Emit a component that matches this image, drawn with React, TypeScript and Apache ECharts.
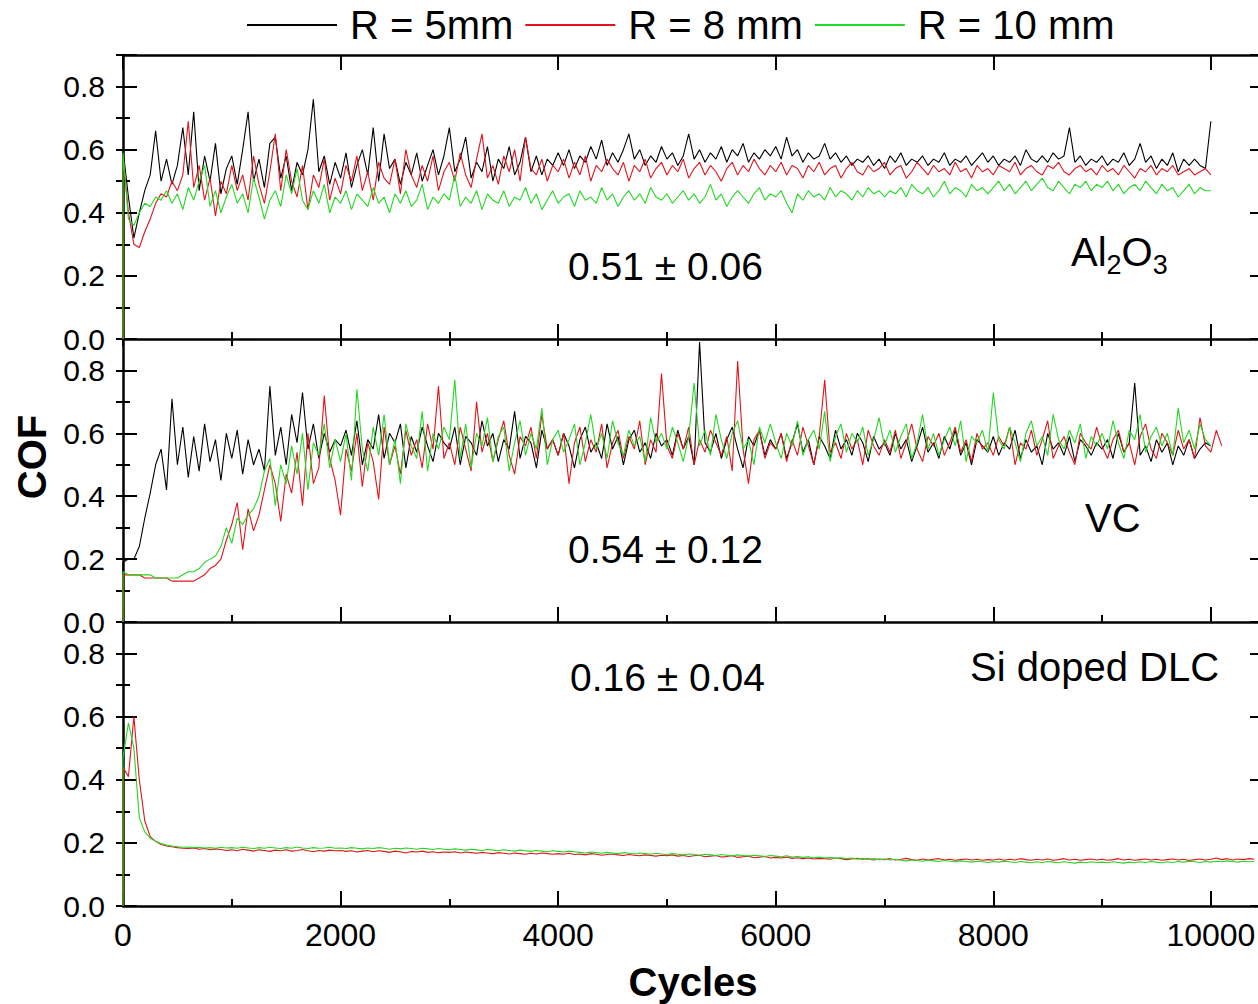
import React, { useEffect, useRef } from 'react';
import * as echarts from 'echarts';

// ---------- data (COF, one sample every 50 cycles, starting at cycle 0) ----------
const STEP = 50;
const X_MAX = 10470;
const seriesNames = ['R = 5mm', 'R = 8 mm', 'R = 10 mm'];
const seriesColors = ['#000000', '#e3131b', '#22d822'];
const xTickLabels = [0, 2000, 4000, 6000, 8000, 10000];
const yTickLabels = [0.0, 0.2, 0.4, 0.6, 0.8];
const panelNames = ['Al2O3', 'VC', 'Si doped DLC'];
const meanLabels = ['0.51 ± 0.06', '0.54 ± 0.12', '0.16 ± 0.04'];

// Al2O3 panel
const al2o3R5 = [
  .60,.45,.32,.40,.47,.52,.66,.50,.57,.49,.55,.67,.52,.72,.47,.58,.50,.62,.46,.54,
  .58,.49,.60,.72,.50,.57,.48,.62,.64,.51,.58,.47,.56,.52,.60,.76,.53,.58,.49,.56,
  .51,.59,.48,.55,.60,.52,.67,.50,.65,.54,.57,.49,.56,.52,.59,.50,.55,.60,.52,.58,
  .67,.53,.57,.64,.51,.56,.53,.61,.50,.57,.54,.61,.52,.56,.64,.53,.58,.52,.57,.55,
  .59,.55,.60,.54,.58,.56,.61,.57,.63,.55,.59,.56,.60,.65,.57,.60,.55,.58,.56,.61,
  .57,.59,.55,.58,.65,.57,.60,.56,.59,.57,.61,.56,.60,.58,.62,.56,.59,.57,.60,.58,
  .61,.57,.64,.58,.60,.56,.59,.57,.58,.62,.57,.59,.56,.58,.55,.57,.56,.58,.55,.57,
  .54,.58,.56,.59,.55,.57,.56,.58,.55,.57,.56,.59,.55,.57,.56,.58,.55,.57,.59,.56,
  .58,.55,.57,.56,.58,.55,.60,.57,.56,.58,.56,.59,.57,.58,.67,.56,.58,.55,.57,.56,
  .58,.55,.57,.56,.59,.55,.57,.62,.56,.58,.54,.57,.55,.59,.53,.57,.55,.57,.55,.54,
  .69,
];
const al2o3R8 = [
  .58,.40,.30,.29,.34,.38,.43,.46,.45,.50,.47,.52,.69,.48,.55,.44,.51,.39,.50,.46,
  .55,.47,.52,.44,.58,.49,.43,.53,.65,.47,.60,.50,.45,.55,.41,.52,.48,.57,.44,.51,
  .46,.55,.50,.58,.47,.53,.44,.56,.51,.49,.57,.46,.60,.52,.48,.55,.50,.58,.47,.53,
  .56,.50,.59,.52,.48,.57,.65,.51,.55,.49,.58,.53,.60,.50,.64,.54,.52,.57,.50,.55,
  .53,.57,.51,.56,.52,.58,.50,.55,.53,.57,.54,.52,.56,.50,.55,.53,.57,.51,.54,.56,
  .52,.55,.53,.57,.51,.54,.56,.52,.55,.53,.50,.54,.56,.52,.55,.53,.57,.54,.52,.55,
  .53,.56,.52,.55,.54,.51,.55,.53,.56,.52,.54,.55,.51,.54,.56,.53,.52,.55,.53,.54,
  .56,.52,.54,.55,.51,.53,.56,.54,.52,.55,.53,.54,.52,.56,.53,.54,.51,.55,.53,.54,
  .52,.55,.54,.53,.56,.52,.54,.55,.53,.52,.55,.54,.56,.53,.52,.54,.55,.53,.54,.52,
  .55,.53,.54,.52,.55,.53,.51,.54,.53,.55,.52,.54,.53,.55,.52,.53,.54,.52,.53,.54,
  .52,
];
const al2o3R10 = [
  .59,.38,.36,.40,.43,.42,.45,.44,.47,.43,.46,.41,.48,.44,.50,.55,.42,.47,.40,.45,
  .49,.43,.46,.40,.51,.45,.38,.44,.47,.42,.52,.46,.54,.44,.41,.47,.43,.49,.40,.45,
  .43,.47,.41,.46,.44,.42,.48,.43,.45,.40,.46,.43,.47,.42,.44,.49,.41,.45,.43,.46,
  .44,.52,.42,.45,.43,.47,.41,.46,.44,.43,.47,.42,.45,.44,.48,.43,.46,.41,.44,.47,
  .43,.45,.46,.42,.47,.44,.45,.43,.48,.44,.46,.42,.45,.47,.44,.46,.43,.48,.45,.44,
  .46,.43,.45,.47,.44,.46,.43,.45,.49,.44,.46,.42,.45,.47,.45,.43,.46,.48,.44,.46,
  .45,.47,.43,.40,.46,.44,.47,.45,.46,.44,.48,.45,.47,.46,.44,.47,.45,.48,.46,.47,
  .45,.47,.46,.48,.45,.49,.47,.46,.48,.45,.47,.50,.46,.48,.47,.45,.49,.47,.48,.46,
  .48,.50,.47,.49,.46,.48,.50,.47,.49,.51,.48,.47,.50,.48,.46,.49,.48,.50,.47,.49,
  .48,.50,.47,.49,.46,.48,.49,.47,.50,.48,.46,.49,.47,.48,.45,.47,.49,.46,.48,.47,
  .47,
];

// VC panel
const vcR5 = [
  .19,.20,.20,.24,.33,.41,.50,.55,.42,.71,.50,.62,.46,.59,.48,.63,.51,.58,.45,.60,
  .52,.61,.47,.58,.50,.55,.48,.75,.53,.62,.50,.66,.57,.73,.55,.63,.52,.60,.54,.58,
  .56,.61,.53,.64,.50,.58,.55,.66,.52,.60,.57,.63,.49,.59,.54,.62,.56,.51,.60,.57,
  .55,.62,.50,.59,.57,.53,.64,.56,.60,.51,.58,.55,.67,.52,.59,.57,.49,.61,.55,.58,
  .53,.60,.56,.49,.58,.62,.54,.57,.52,.63,.55,.59,.50,.58,.61,.54,.57,.52,.60,.56,
  .58,.53,.61,.55,.59,.50,.89,.57,.54,.60,.52,.58,.62,.55,.49,.59,.56,.61,.53,.58,
  .55,.60,.52,.57,.63,.54,.58,.50,.59,.56,.52,.61,.55,.58,.53,.60,.57,.51,.59,.55,
  .57,.53,.60,.55,.58,.51,.56,.62,.54,.57,.52,.59,.55,.61,.53,.57,.50,.58,.56,.54,
  .59,.53,.57,.55,.61,.52,.58,.54,.56,.50,.60,.55,.57,.53,.59,.51,.58,.56,.53,.57,
  .55,.58,.52,.60,.54,.57,.76,.53,.56,.51,.58,.54,.57,.50,.56,.53,.58,.52,.55,.57,
  .56,
];
const vcR8 = [
  .15,.15,.15,.15,.14,.14,.14,.14,.14,.13,.13,.13,.13,.13,.14,.15,.17,.18,.20,.26,
  .31,.38,.23,.36,.29,.34,.42,.50,.44,.32,.47,.41,.54,.37,.60,.44,.49,.72,.52,.45,
  .34,.55,.48,.60,.43,.57,.51,.39,.62,.50,.56,.47,.61,.53,.58,.49,.63,.55,.75,.52,
  .57,.50,.62,.55,.48,.70,.54,.60,.51,.58,.64,.53,.47,.59,.56,.62,.52,.66,.55,.58,
  .53,.60,.44,.57,.62,.51,.58,.54,.63,.49,.57,.61,.52,.59,.55,.64,.50,.58,.54,.79,
  .56,.52,.60,.55,.62,.50,.58,.54,.61,.57,.53,.59,.48,.83,.55,.44,.58,.61,.52,.57,
  .55,.60,.51,.58,.53,.62,.56,.50,.59,.77,.54,.57,.52,.60,.55,.58,.50,.61,.56,.53,
  .58,.54,.61,.52,.57,.63,.55,.51,.59,.56,.60,.53,.57,.62,.54,.58,.51,.60,.55,.57,
  .53,.59,.56,.62,.50,.57,.55,.61,.53,.58,.64,.52,.56,.59,.54,.50,.60,.57,.55,.62,
  .56,.52,.58,.61,.54,.57,.50,.59,.63,.55,.52,.60,.57,.53,.61,.55,.58,.52,.65,.56,
  .54,.61,.56,
];
const vcR10 = [
  .16,.15,.15,.15,.15,.15,.14,.14,.14,.14,.14,.15,.16,.16,.17,.19,.20,.21,.24,.30,
  .25,.33,.31,.34,.36,.40,.48,.52,.37,.50,.44,.56,.47,.60,.42,.57,.53,.63,.49,.58,
  .51,.60,.45,.74,.55,.48,.62,.53,.66,.50,.58,.44,.63,.56,.52,.67,.48,.60,.55,.62,
  .58,.77,.52,.63,.49,.60,.56,.65,.51,.59,.62,.48,.57,.64,.53,.60,.55,.68,.50,.58,
  .61,.54,.58,.63,.50,.57,.66,.55,.60,.52,.64,.57,.53,.61,.56,.59,.51,.65,.57,.60,
  .55,.62,.57,.51,.59,.76,.56,.61,.53,.66,.58,.52,.60,.64,.55,.58,.50,.62,.57,.63,
  .57,.52,.60,.56,.64,.53,.58,.61,.55,.67,.51,.59,.63,.54,.60,.57,.62,.53,.58,.65,
  .56,.61,.54,.59,.63,.52,.57,.66,.55,.60,.53,.58,.62,.56,.64,.51,.59,.57,.61,.54,
  .73,.58,.55,.62,.57,.51,.60,.64,.56,.59,.53,.66,.58,.55,.61,.57,.63,.52,.59,.56,
  .60,.55,.64,.57,.52,.61,.58,.66,.54,.59,.62,.56,.60,.53,.68,.57,.61,.55,.63,.58,
  .56,
];

// Si doped DLC panel
const dlcR8 = [
  .44,.41,.60,.40,.27,.22,.205,.195,.19,.188,.185,.183,.182,.184,.18,.182,.178,.181,.179,.176,
  .178,.175,.18,.177,.174,.178,.176,.173,.177,.175,.178,.174,.176,.179,.175,.172,.176,.174,.177,.175,
  .176,.173,.175,.171,.174,.176,.172,.175,.173,.17,.174,.172,.168,.173,.171,.174,.17,.172,.169,.171,
  .17,.172,.168,.171,.169,.167,.17,.168,.166,.169,.167,.165,.168,.166,.164,.167,.165,.168,.166,.164,
  .166,.164,.167,.163,.165,.162,.166,.164,.161,.163,.165,.162,.16,.163,.161,.159,.162,.16,.158,.161,
  .159,.162,.158,.16,.157,.159,.161,.156,.158,.16,.155,.157,.159,.154,.156,.158,.153,.155,.157,.152,
  .154,.152,.155,.151,.153,.15,.152,.149,.151,.15,.148,.152,.15,.147,.149,.151,.148,.15,.146,.149,
  .147,.15,.146,.148,.151,.147,.145,.149,.146,.148,.15,.146,.148,.145,.147,.149,.146,.148,.145,.147,
  .146,.149,.145,.148,.146,.15,.147,.145,.148,.146,.149,.145,.147,.15,.146,.148,.145,.147,.149,.146,
  .148,.145,.147,.15,.146,.148,.145,.147,.149,.146,.148,.145,.147,.149,.146,.148,.144,.147,.149,.146,
  .148,.152,.147,.15,.146,.149,.147,.15,.148,
];
const dlcR10 = [
  .47,.58,.50,.28,.235,.215,.205,.198,.193,.19,.188,.186,.187,.185,.186,.184,.185,.183,.186,.184,
  .185,.183,.186,.184,.182,.185,.183,.186,.184,.182,.185,.183,.187,.184,.182,.185,.183,.184,.186,.183,
  .184,.182,.185,.183,.181,.184,.182,.185,.183,.18,.183,.181,.184,.182,.18,.183,.181,.179,.182,.18,
  .178,.181,.179,.177,.18,.178,.176,.179,.177,.175,.178,.176,.174,.177,.175,.173,.176,.174,.172,.175,
  .173,.171,.174,.172,.17,.168,.171,.169,.167,.17,.168,.166,.169,.167,.165,.168,.166,.164,.167,.165,
  .163,.166,.164,.162,.165,.163,.161,.164,.162,.16,.163,.161,.159,.162,.16,.158,.161,.159,.157,.16,
  .158,.156,.159,.155,.157,.154,.156,.153,.155,.152,.154,.151,.153,.15,.152,.149,.151,.148,.15,.147,
  .149,.146,.148,.145,.143,.146,.144,.142,.145,.143,.141,.144,.142,.14,.143,.141,.139,.142,.14,.138,
  .141,.139,.142,.14,.138,.141,.139,.137,.14,.138,.141,.139,.137,.14,.138,.136,.139,.137,.14,.138,
  .139,.137,.14,.138,.136,.139,.137,.14,.138,.141,.139,.137,.14,.138,.141,.139,.142,.14,.138,.141,
  .139,.142,.14,.143,.141,.139,.142,.14,.141,
];

const panelSeries: (number[] | null)[][] = [
  [al2o3R5, al2o3R8, al2o3R10],
  [vcR5, vcR8, vcR10],
  [null, dlcR8, dlcR10],
];

// ---------- chart ----------
const FONT = '"Liberation Sans", Arial, Helvetica, sans-serif';

function toPoints(vals: number[]) {
  const pts: number[][] = [[0, 0]];
  vals.forEach((v, i) => pts.push([i * STEP, v]));
  return pts;
}

const GRIDS = [
  { left: 123, top: 55, width: 1139, height: 284 },
  { left: 123, top: 339, width: 1139, height: 283 },
  { left: 123, top: 622, width: 1139, height: 284 },
];

function buildOption() {
  const xAxis: any[] = [];
  const yAxis: any[] = [];
  const series: any[] = [];
  const axisLine = { show: true, onZero: false, lineStyle: { color: '#000', width: 2.5 } };
  const tickStyle = { color: '#000', width: 2 };

  GRIDS.forEach((_, g) => {
    const xMajorIdx = xAxis.length;
    const positions = g === 0 ? ['bottom', 'top'] : ['bottom'];
    positions.forEach((pos) => {
      xAxis.push({
        type: 'value', gridIndex: g, position: pos, min: 0, max: X_MAX, interval: 2000,
        axisLine, splitLine: { show: false },
        axisTick: { show: true, inside: true, length: 15, lineStyle: tickStyle },
        axisLabel: {
          show: g === 2 && pos === 'bottom', margin: 13, color: '#000', fontSize: 32, fontFamily: FONT,
          formatter: (v: number) => (xTickLabels.includes(v) ? String(v) : ''),
        },
      });
      xAxis.push({
        type: 'value', gridIndex: g, position: pos, min: 0, max: X_MAX, interval: 1000,
        axisLine: { show: false }, splitLine: { show: false }, axisLabel: { show: false },
        axisTick: { show: true, inside: true, length: 7, lineStyle: tickStyle },
      });
    });
    const yMajorIdx = yAxis.length;
    ['left', 'right'].forEach((pos) => {
      yAxis.push({
        type: 'value', gridIndex: g, position: pos, min: 0, max: 0.9, interval: 0.2,
        axisLine, splitLine: { show: false },
        axisTick: { show: true, inside: true, length: pos === 'left' ? 14 : 12, lineStyle: tickStyle },
        axisLabel: {
          show: pos === 'left', margin: 18, color: '#000', fontSize: 30, lineHeight: 26, fontFamily: FONT,
          formatter: (v: number) => {
            const hit = yTickLabels.find((t) => Math.abs(t - v) < 1e-6);
            return hit === undefined ? '' : hit.toFixed(1);
          },
        },
      });
      yAxis.push({
        type: 'value', gridIndex: g, position: pos, min: 0, max: 0.9, interval: 0.1,
        axisLine: { show: false }, splitLine: { show: false }, axisLabel: { show: false },
        axisTick: { show: true, inside: true, length: 7, lineStyle: tickStyle },
      });
    });

    panelSeries[g].forEach((vals, s) => {
      if (!vals) return;
      series.push({
        type: 'line', name: seriesNames[s], xAxisIndex: xMajorIdx, yAxisIndex: yMajorIdx,
        data: toPoints(vals), symbol: 'none', showSymbol: false, silent: true,
        lineStyle: { color: seriesColors[s], width: 1.1 },
        itemStyle: { color: seriesColors[s] },
        z: 3 + s,
      });
    });
  });

  const textBase = { fill: '#000', fontFamily: FONT };
  const graphic: any[] = [
    { type: 'text', x: 32, y: 457, rotation: Math.PI / 2,
      style: { ...textBase, text: 'COF', fontSize: 40, fontWeight: 'bold', align: 'center', verticalAlign: 'middle' } },
    { type: 'text', x: 693, y: 982,
      style: { ...textBase, text: 'Cycles', fontSize: 40, fontWeight: 'bold', align: 'center', verticalAlign: 'middle' } },
    { type: 'text', x: 568, y: 266,
      style: { ...textBase, text: meanLabels[0], fontSize: 39, align: 'left', verticalAlign: 'middle' } },
    { type: 'text', x: 568, y: 549,
      style: { ...textBase, text: meanLabels[1], fontSize: 39, align: 'left', verticalAlign: 'middle' } },
    { type: 'text', x: 570, y: 677,
      style: { ...textBase, text: meanLabels[2], fontSize: 39, align: 'left', verticalAlign: 'middle' } },
    { type: 'text', x: 1085, y: 518,
      style: { ...textBase, text: panelNames[1], fontSize: 40, align: 'left', verticalAlign: 'middle' } },
    { type: 'text', x: 970, y: 667,
      style: { ...textBase, text: panelNames[2], fontSize: 40, align: 'left', verticalAlign: 'middle' } },
    { type: 'text', x: 1071, y: 255,
      style: {
        ...textBase, text: '{n|Al}{s|2}{n|O}{s|3}', align: 'left', verticalAlign: 'middle', fontSize: 40,
        rich: {
          n: { fontSize: 40, lineHeight: 40, fontFamily: FONT, fill: '#000', verticalAlign: 'top' },
          s: { fontSize: 27, lineHeight: 46, fontFamily: FONT, fill: '#000', verticalAlign: 'bottom' },
        },
      } },
  ];

  return {
    animation: false,
    backgroundColor: '#ffffff',
    grid: GRIDS.map((g) => ({ ...g, containLabel: false })),
    xAxis, yAxis, series, graphic,
    legend: {
      data: seriesNames, left: 247, top: 4, padding: 0, itemWidth: 90, itemHeight: 2, itemGap: 12,
      icon: 'rect', selectedMode: false,
      textStyle: { fontSize: 40, lineHeight: 42, color: '#000', fontFamily: FONT, padding: [0, 0, 0, 8] },
    },
  };
}

export default function App() {
  const ref = useRef<HTMLDivElement>(null);
  useEffect(() => {
    if (!ref.current) return;
    const chart = echarts.init(ref.current, undefined, { renderer: 'svg' });
    chart.setOption(buildOption() as any);
    return () => chart.dispose();
  }, []);
  return (
    <div style={{ position: 'absolute', left: 0, top: 0, width: 1258, height: 1004, overflow: 'hidden', background: '#fff' }}>
      <div ref={ref} style={{ width: 1272, height: 1004 }} />
    </div>
  );
}
